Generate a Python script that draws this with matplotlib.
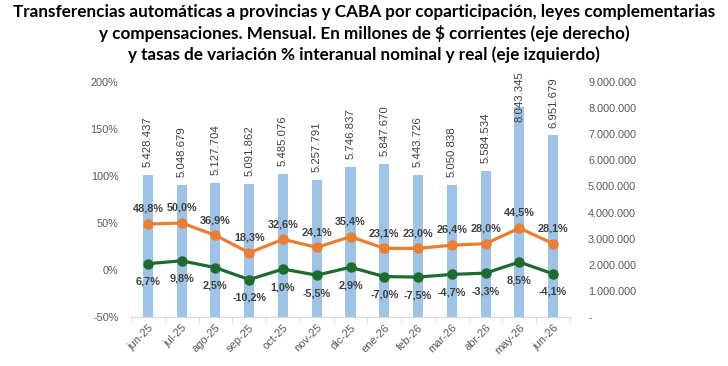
import numpy as np
import matplotlib.pyplot as plt
from matplotlib.ticker import FuncFormatter, FixedLocator

plt.rcParams['font.family'] = ['Liberation Sans', 'DejaVu Sans']

# datos mensuales
meses = ['jun-25', 'jul-25', 'ago-25', 'sep-25', 'oct-25', 'nov-25', 'dic-25',
         'ene-26', 'feb-26', 'mar-26', 'abr-26', 'may-26', 'jun-26']
montos = [5428437, 5048679, 5127704, 5091862, 5485076, 5257791, 5746837,
          5847670, 5443726, 5050838, 5584534, 8043345, 6951679]
var_nominal = [48.8, 50.0, 36.9, 18.3, 32.6, 24.1, 35.4, 23.1, 23.0, 26.4, 28.0, 44.5, 28.1]
var_real = [6.7, 9.8, 2.5, -10.2, 1.0, -5.5, 2.9, -7.0, -7.5, -4.7, -3.3, 8.5, -4.1]

gris = '#595959'
texto = '#404040'

fig = plt.figure(figsize=(7.28, 3.66), dpi=100)
ax = fig.add_axes([131 / 728, 1 - 317 / 366, 439 / 728, 235 / 366])
ax2 = ax.twinx()

x = np.arange(len(meses))

# barras (eje derecho)
ax2.bar(x, montos, width=0.3, color='#9DC3E6', zorder=1)
ax2.set_ylim(0, 9000000)
ax2.set_yticks(np.arange(0, 9000001, 1000000))


def fmt_miles(v, pos):
    if v == 0:
        return '-'
    return f'{int(v):,}'.replace(',', '.')


ax2.yaxis.set_major_formatter(FuncFormatter(fmt_miles))
ax2.tick_params(axis='y', length=0, pad=13, labelsize=7.8, labelcolor=gris)

tope = 9400000
alto_etiqueta = 1950000
for xi, v in zip(x, montos):
    lbl = f'{v:,}'.replace(',', '.')
    if v + 300000 + alto_etiqueta > tope:
        ax2.text(xi, tope, lbl, rotation=90, ha='center', va='top',
                 fontsize=8.2, color=texto, clip_on=False)
    else:
        ax2.text(xi, v + 300000, lbl, rotation=90, ha='center', va='bottom',
                 fontsize=8.2, color=texto)

# lineas (eje izquierdo)
ax.set_zorder(ax2.get_zorder() + 1)
ax.patch.set_visible(False)
ax.plot(x, var_nominal, color='#ED7D31', lw=2.3, marker='o', ms=6.5)
ax.plot(x, var_real, color='#1E6B2E', lw=2.3, marker='o', ms=6.5)

for xi, v in zip(x, var_nominal):
    ax.annotate(f'{v:.1f}%'.replace('.', ','), (xi, v), xytext=(0, 11),
                textcoords='offset points', ha='center', va='center',
                fontsize=7.8, fontweight='bold', color=texto)
for xi, v in zip(x, var_real):
    ax.annotate(f'{v:.1f}%'.replace('.', ','), (xi, v), xytext=(0, -13),
                textcoords='offset points', ha='center', va='center',
                fontsize=7.8, fontweight='bold', color=texto)

ax.set_ylim(-50, 200)
ax.set_yticks(np.arange(-50, 201, 50))
ax.yaxis.set_major_formatter(FuncFormatter(lambda v, p: f'{int(v)}%'))
ax.tick_params(axis='y', length=0, pad=9, labelsize=7.8, labelcolor=gris)

ax.set_xlim(-0.5, len(meses) - 0.5)
ax.set_xticks(x)
ax.set_xticklabels(meses, rotation=45, ha='right', rotation_mode='anchor')
ax.tick_params(axis='x', length=0, pad=4, labelsize=8, labelcolor=gris)
ax.xaxis.set_minor_locator(FixedLocator(np.arange(-0.5, len(meses), 1)))
ax.tick_params(axis='x', which='minor', length=4, color='#D9D9D9')

for a in (ax, ax2):
    for s in ('top', 'left', 'right'):
        a.spines[s].set_visible(False)
    a.spines['bottom'].set_color('#D9D9D9')

fig.text(0.5, 0.99,
         'Transferencias automáticas a provincias y CABA por coparticipación, leyes complementarias\n'
         'y compensaciones. Mensual. En millones de $ corrientes (eje derecho)\n'
         'y tasas de variación % interanual nominal y real (eje izquierdo)',
         ha='center', va='top', fontsize=12.3, fontweight='bold', family='Lato',
         linespacing=1.35, color='black')

fig.savefig('out.png', dpi=100)
